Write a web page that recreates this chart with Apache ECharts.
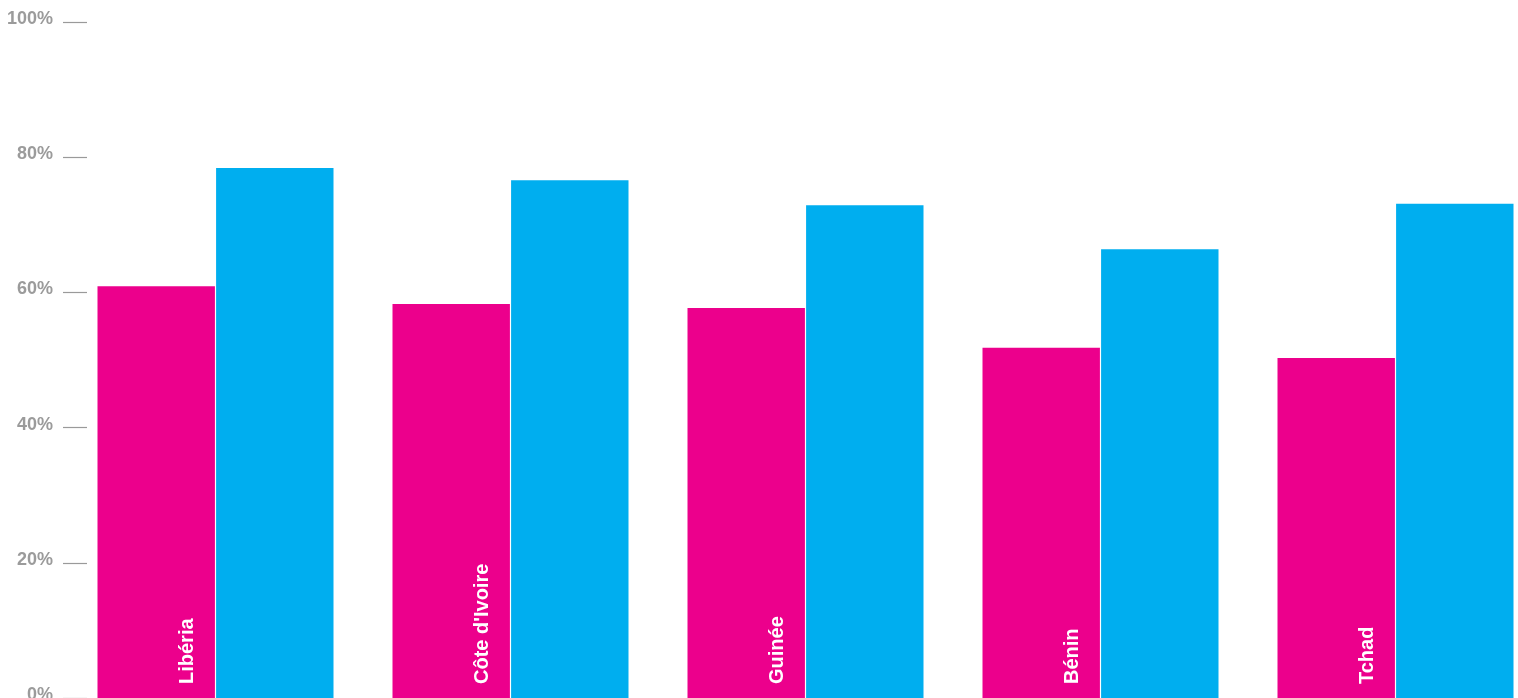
<!DOCTYPE html>
<html>
<head>
<meta charset="utf-8">
<script src="https://cdn.jsdelivr.net/npm/echarts@6/dist/echarts.min.js"></script>
<style>
html,body{margin:0;padding:0;background:#fff;}
#chart{width:1518px;height:698px;}
</style>
</head>
<body>
<div id="chart"></div>
<script>
const categories = ['Libéria', "Côte d'Ivoire", 'Guinée', 'Bénin', 'Tchad'];
const seriesPink = [60.9, 58.3, 57.7, 51.8, 50.3];
const seriesBlue = [78.4, 76.6, 72.9, 66.4, 73.1];
const yTicks = { min: 0, max: 100, interval: 20 };

const chart = echarts.init(document.getElementById('chart'), null, { renderer: 'canvas' });
chart.setOption({
  animation: false,
  grid: { left: 68, right: -25, top: 22, bottom: 0, containLabel: false, outerBoundsMode: 'none' },
  xAxis: {
    type: 'category',
    data: categories,
    axisLine: { show: false },
    axisTick: { show: false },
    axisLabel: { show: false },
    splitLine: { show: false }
  },
  yAxis: {
    type: 'value',
    min: yTicks.min,
    max: yTicks.max,
    interval: yTicks.interval,
    offset: 5,
    axisLine: { show: false },
    splitLine: { show: false },
    axisTick: { show: true, inside: true, length: 24, lineStyle: { color: '#9a9a9a', width: 1.2 } },
    axisLabel: {
      formatter: '{value}%',
      margin: 10,
      color: '#9b9b9b',
      fontFamily: 'Liberation Sans, Arial, sans-serif',
      fontWeight: 'bold',
      fontSize: 18,
      verticalAlign: 'bottom',
      lineHeight: 6
    }
  },
  series: [
    {
      type: 'bar',
      data: seriesPink,
      barCategoryGap: '20%',
      barGap: '1%',
      itemStyle: { color: '#EC008C' },
      label: {
        show: true,
        formatter: p => p.name,
        position: ['77%', '100%'],
        offset: [14, 0],
        rotate: 90,
        align: 'left',
        verticalAlign: 'middle',
        color: '#ffffff',
        fontFamily: 'Liberation Sans, Arial, sans-serif',
        fontWeight: 'bold',
        fontSize: 20
      }
    },
    {
      type: 'bar',
      data: seriesBlue,
      barCategoryGap: '20%',
      barGap: '1%',
      itemStyle: { color: '#00AEEF' }
    }
  ]
});
</script>
</body>
</html>
